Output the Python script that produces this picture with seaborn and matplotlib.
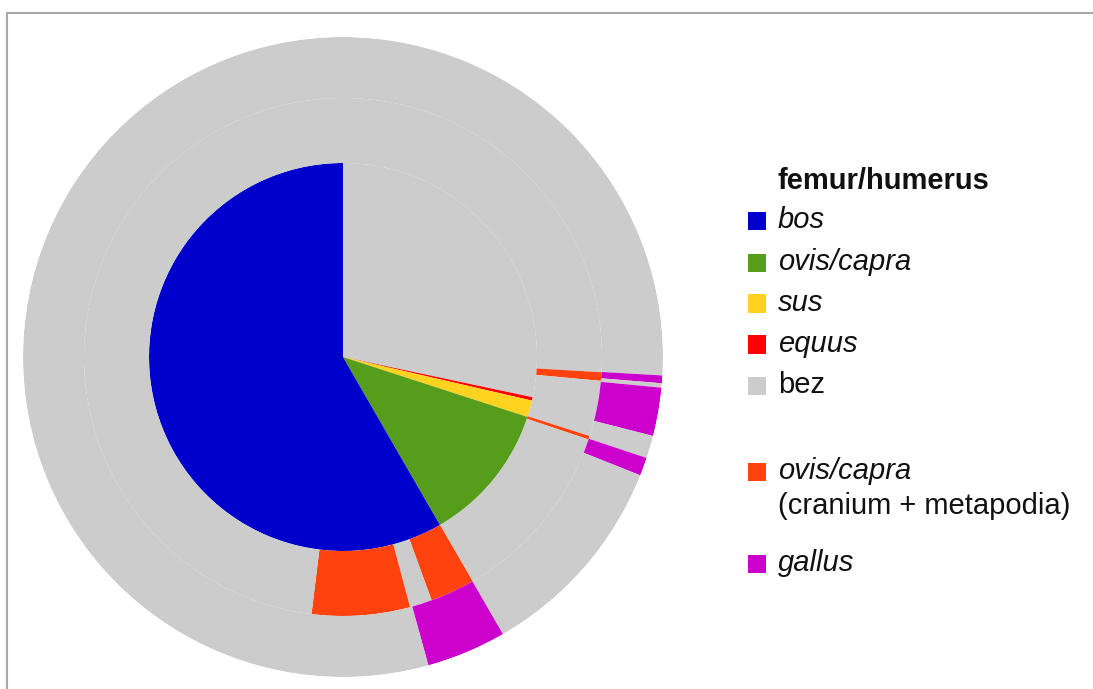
import numpy as np
import matplotlib
matplotlib.use("Agg")
import matplotlib.pyplot as plt
from matplotlib.patches import Rectangle
from matplotlib.lines import Line2D
import seaborn as sns

# ---------------- data (percent of full circle, clockwise from 12 o'clock) -------------
inner_labels = ["bez", "equus", "sus", "ovis/capra", "bos"]
inner_values = [28.33, 0.28, 1.39, 11.67, 58.33]

# ring 2: ovis/capra (cranium + metapodia); "o" = orange segment, "g" = bez
ring2_kind = ["g", "o", "g", "o", "g", "o", "g", "o", "g"]
ring2_values = [25.94, 0.53, 3.47, 0.22, 11.50, 2.78, 1.39, 6.11, 48.06]

# ring 3: gallus; "p" = purple segment, "g" = bez
ring3_kind = ["g", "p", "g", "p", "g", "p", "g", "p", "g"]
ring3_values = [25.92, 0.39, 0.22, 2.44, 1.14, 0.92, 10.64, 4.03, 54.30]

legend_title = "femur/humerus"
legend_labels = ["bos", "ovis/capra", "sus", "equus", "bez",
                 "ovis/capra\n(cranium + metapodia)", "gallus"]
legend_italic = [True, True, True, True, False, True, True]

# ---------------- styling --------------------------------------------------------------
sns.set_theme(style="white")
plt.rcParams["font.family"] = ["Liberation Sans", "DejaVu Sans"]

palette = dict(zip(["bos", "ovis/capra", "sus", "equus", "bez", "o", "p"],
                   sns.color_palette(["#0000cc", "#579d1c", "#ffd320", "#ff0000",
                                      "#cccccc", "#ff420e", "#cc00cc"])))
palette["g"] = palette["bez"]

W, H = 1093, 689
fig = plt.figure(figsize=(W / 100, H / 100), dpi=100)
fig.patch.set_facecolor("white")

cx, cy, R = 343, 357, 320
ax = fig.add_axes([(cx - R) / W, (H - cy - R) / H, 2 * R / W, 2 * R / H],
                  projection="polar")
ax.set_theta_zero_location("N")
ax.set_theta_direction(-1)
ax.set_ylim(0, R)
ax.set_axis_off()

r_inner, r_mid, r_out = 194, 259, 320


def draw_ring(values, keys, r0, r1):
    v = np.asarray(values, dtype=float)
    frac = v / v.sum() * 2 * np.pi
    starts = np.concatenate([[0], np.cumsum(frac)[:-1]])
    ax.bar(starts, r1 - r0, width=frac, bottom=r0, align="edge",
           color=[palette[k] for k in keys], edgecolor="none", linewidth=0)


draw_ring(inner_values, inner_labels, 0, r_inner)
draw_ring(ring2_values, ring2_kind, r_inner, r_mid)
draw_ring(ring3_values, ring3_kind, r_mid, r_out)

# ---------------- frame ----------------------------------------------------------------
fig.add_artist(Line2D([7 / W, 1], [1 - 13 / H, 1 - 13 / H], transform=fig.transFigure,
                      color="#a8a8a8", lw=1.5))
fig.add_artist(Line2D([7 / W, 7 / W], [1 - 13 / H, 0], transform=fig.transFigure,
                      color="#a8a8a8", lw=1.5))

# ---------------- legend ---------------------------------------------------------------
fs = 21
fig.text(778 / W, 1 - 189 / H, legend_title, fontsize=fs, fontweight="bold",
         color="#111111", va="baseline", ha="left")

legend_keys = ["bos", "ovis/capra", "sus", "equus", "bez", "o", "p"]
square_cy = [221, 263, 303.5, 344.5, 386, 472, 564]
sq = 18
for key, lab, ital, yc in zip(legend_keys, legend_labels, legend_italic, square_cy):
    fig.add_artist(Rectangle((748 / W, 1 - (yc + sq / 2) / H), sq / W, sq / H,
                             transform=fig.transFigure, facecolor=palette[key],
                             edgecolor="none"))
    lines = lab.split("\n")
    for i, ln in enumerate(lines):
        style = "italic" if (ital and i == 0) else "normal"
        fig.text(778 / W, 1 - (yc + 7 + i * 35) / H, ln, fontsize=fs, fontstyle=style,
                 color="#111111", va="baseline", ha="left")

fig.savefig("out.png", dpi=100, facecolor="white")
